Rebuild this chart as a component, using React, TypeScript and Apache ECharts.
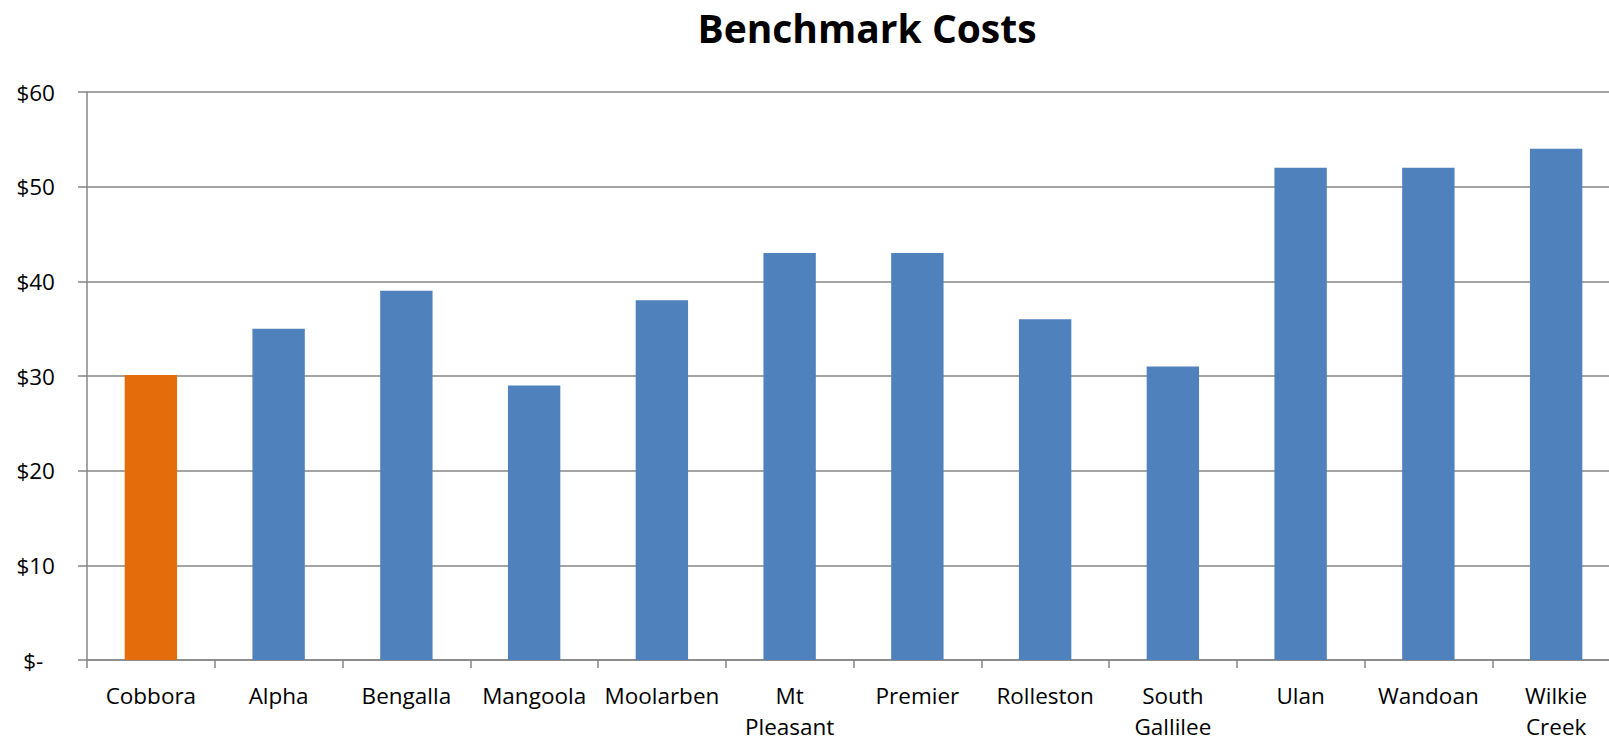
import React, { useEffect, useRef } from "react";
import * as echarts from "echarts";

const categories = [
  "Cobbora", "Alpha", "Bengalla", "Mangoola", "Moolarben", "Mt\nPleasant",
  "Premier", "Rolleston", "South\nGallilee", "Ulan", "Wandoan", "Wilkie\nCreek",
];
const costs = [30.1, 35, 39, 29, 38, 43, 43, 36, 31, 52, 52, 54];
const highlightIndex = 0;
const yTicks = [0, 10, 20, 30, 40, 50, 60];

const BLUE = "#4F81BD";
const ORANGE = "#E46C0A";
const GRID = "#868686";
const FONT = "'Open Sans', Lato, sans-serif";

export default function App() {
  const ref = useRef<HTMLDivElement>(null);
  useEffect(() => {
    document.body.style.margin = "0";
    const chart = echarts.init(ref.current!, null, { renderer: "svg" });
    chart.setOption({
      animation: false,
      backgroundColor: "#ffffff",
      title: {
        text: "Benchmark Costs",
        left: 862,
        textAlign: "center",
        top: 3,
        textStyle: { fontFamily: FONT, fontWeight: "bold", fontSize: 39, color: "#000" },
      },
      grid: { left: 87, top: 92, width: 1533, height: 568, containLabel: false },
      xAxis: {
        type: "category",
        data: categories,
        axisLine: { lineStyle: { color: GRID, width: 1.5 } },
        axisTick: { show: true, length: 8, alignWithLabel: false, lineStyle: { color: GRID, width: 1.5 } },
        axisLabel: {
          interval: 0,
          color: "#000",
          fontFamily: FONT,
          fontSize: 22.5,
          lineHeight: 31,
          margin: 20,
        },
      },
      yAxis: {
        type: "value",
        min: yTicks[0],
        max: yTicks[yTicks.length - 1],
        interval: 10,
        axisLine: { show: true, lineStyle: { color: GRID, width: 1.5 } },
        axisTick: { show: true, inside: false, length: 9, lineStyle: { color: GRID, width: 1.5 } },
        splitLine: { lineStyle: { color: GRID, width: 1.5 } },
        axisLabel: {
          color: "#000",
          fontFamily: FONT,
          fontSize: 22.5,
          margin: 32,
          formatter: (v: number) => (v === 0 ? "$-  " : "$" + v),
        },
      },
      series: [
        {
          type: "bar",
          barWidth: "41%",
          data: costs.map((v, i) => ({
            value: v,
            itemStyle: { color: i === highlightIndex ? ORANGE : BLUE },
          })),
        },
      ],
    });
    return () => chart.dispose();
  }, []);
  return (
    <div style={{ width: 1609, height: 742, overflow: "hidden", position: "relative" }}>
      <div ref={ref} style={{ width: 1625, height: 742 }} />
    </div>
  );
}
